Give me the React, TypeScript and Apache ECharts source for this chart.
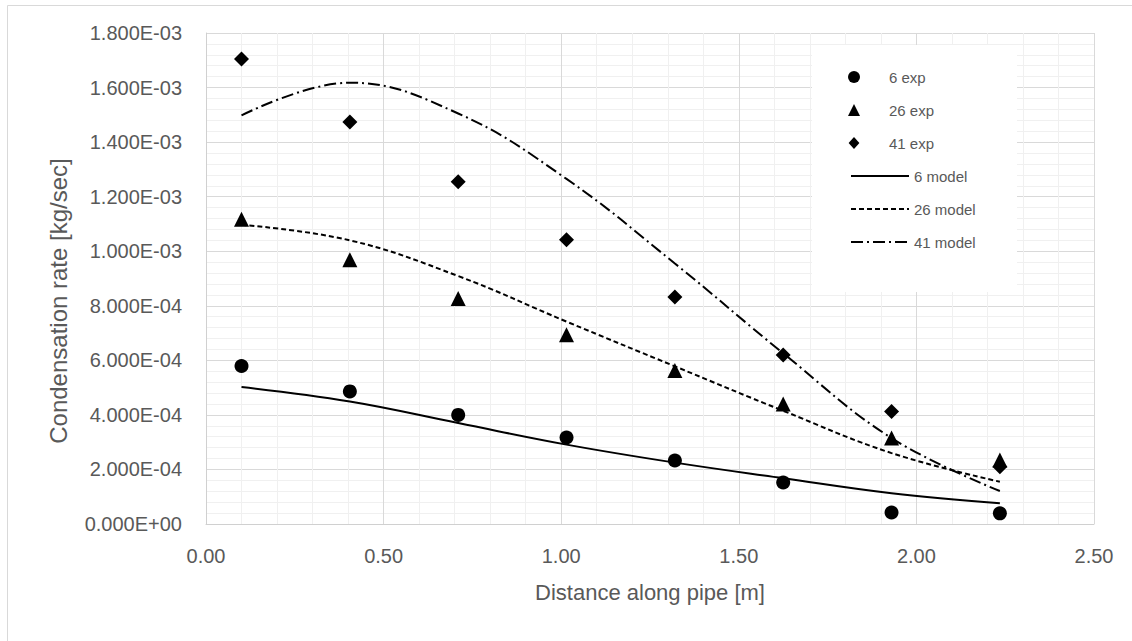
import React, { useEffect, useRef } from "react";
import * as echarts from "echarts";

const xPos = [0.1, 0.405, 0.71, 1.015, 1.32, 1.625, 1.93, 2.235];
const exp6 = [5.79e-4, 4.86e-4, 4.0e-4, 3.17e-4, 2.33e-4, 1.52e-4, 0.42e-4, 0.39e-4];
const exp26 = [1.117e-3, 0.969e-3, 0.827e-3, 0.694e-3, 0.563e-3, 0.44e-3, 3.15e-4, 2.35e-4];
const exp41 = [1.705e-3, 1.474e-3, 1.255e-3, 1.042e-3, 0.832e-3, 0.62e-3, 0.412e-3, 2.1e-4];
const model6 = [5.02e-4, 4.49e-4, 3.7e-4, 2.91e-4, 2.25e-4, 1.68e-4, 1.13e-4, 0.76e-4];
const model26 = [1.097e-3, 1.04e-3, 0.909e-3, 0.742e-3, 0.578e-3, 0.415e-3, 2.6e-4, 1.55e-4];
const model41 = [1.498e-3, 1.618e-3, 1.505e-3, 1.265e-3, 0.955e-3, 0.626e-3, 3.15e-4, 1.21e-4];

const expNames = ["6 exp", "26 exp", "41 exp"];
const modelNames = ["6 model", "26 model", "41 model"];
const xTitle = "Distance along pipe [m]";
const yTitle = "Condensation rate [kg/sec]";

const FONT = "'Liberation Sans', Arial, sans-serif";
const GREY = "#595959";

const expIcons = [
  "path://M0,-10A10,10,0,1,1,0,10A10,10,0,1,1,0,-10Z",
  "path://M0,-10L10,10L-10,10Z",
  "path://M0,-10L9,0L0,10L-9,0Z",
];

function sci(v: number): string {
  if (v === 0) return "0.000E+00";
  let e = Math.floor(Math.log10(Math.abs(v)) + 1e-9);
  let m = v / Math.pow(10, e);
  if (Math.abs(m) >= 9.9995) {
    m /= 10;
    e += 1;
  }
  const sign = e < 0 ? "-" : "+";
  return m.toFixed(3) + "E" + sign + String(Math.abs(e)).padStart(2, "0");
}

const pairs = (ys: number[]) => xPos.map((x, i) => [x, ys[i]]);

export default function App() {
  const ref = useRef<HTMLDivElement>(null);
  useEffect(() => {
    if (!ref.current) return;
    const chart = echarts.init(ref.current, undefined, { renderer: "svg" });
    const scatter = (name: string, data: number[], symbol: string, size: number) => ({
      name,
      type: "scatter",
      data: pairs(data),
      symbol,
      symbolSize: size,
      itemStyle: { color: "#000", opacity: 1 },
      z: 3,
    });
    const line = (name: string, data: number[], type: any) => ({
      name,
      type: "line",
      data: pairs(data),
      smooth: 0.4,
      showSymbol: false,
      symbol: "none",
      itemStyle: { color: "#000" },
      lineStyle: { color: "#000", width: 2, type },
      z: 2,
    });
    const legendText = { color: GREY, fontSize: 15, fontFamily: FONT, lineHeight: 16 };
    chart.setOption({
      animation: false,
      backgroundColor: "#fff",
      textStyle: { fontFamily: FONT },
      grid: { left: 206, right: 38, top: 33, bottom: 117, containLabel: false },
      xAxis: {
        type: "value",
        min: 0,
        max: 2.5,
        interval: 0.5,
        name: xTitle,
        nameLocation: "middle",
        nameGap: 57,
        nameTextStyle: { color: GREY, fontSize: 22, fontFamily: FONT },
        axisLine: { show: true, lineStyle: { color: "#d0d0d0", width: 1 } },
        axisTick: { show: false },
        axisLabel: {
          color: GREY,
          fontSize: 20,
          fontFamily: FONT,
          margin: 22,
          formatter: (v: number) => v.toFixed(2),
        },
        splitLine: { show: true, lineStyle: { color: "#d9d9d9", width: 1 } },
        minorTick: { show: false, splitNumber: 5 },
        minorSplitLine: { show: true, lineStyle: { color: "#f0f0f0", width: 1 } },
      },
      yAxis: {
        type: "value",
        min: 0,
        max: 1.8e-3,
        interval: 2e-4,
        axisLine: { show: true, lineStyle: { color: "#d0d0d0", width: 1 } },
        axisTick: { show: false },
        axisLabel: {
          color: GREY,
          fontSize: 20,
          fontFamily: FONT,
          margin: 24,
          formatter: (v: number) => sci(v),
        },
        splitLine: { show: true, lineStyle: { color: "#d9d9d9", width: 1 } },
        minorTick: { show: false, splitNumber: 5 },
        minorSplitLine: { show: true, lineStyle: { color: "#f0f0f0", width: 1 } },
      },
      legend: [
        {
          show: true,
          orient: "vertical",
          left: 843,
          top: 64,
          itemWidth: 60,
          itemHeight: 12,
          itemGap: 17,
          symbolKeepAspect: true,
          selectedMode: false,
          data: expNames.map((n, i) => ({ name: n, icon: expIcons[i] })),
          textStyle: legendText,
          z: 5,
        },
        {
          show: true,
          orient: "vertical",
          left: 845,
          top: 163,
          itemWidth: 58,
          itemHeight: 12,
          itemGap: 17,
          selectedMode: false,
          data: modelNames.map((n) => ({ name: n, itemStyle: { opacity: 0 } })),
          textStyle: legendText,
          z: 5,
        },
      ],
      graphic: [
        {
          type: "rect",
          z: 1,
          shape: { x: 812, y: 45, width: 205, height: 247 },
          style: { fill: "#fff", stroke: "none" },
          silent: true,
        },
        {
          type: "rect",
          z: 0,
          shape: { x: 7.5, y: 5.5, width: 1150, height: 660 },
          style: { fill: "none", stroke: "#d9d9d9", lineWidth: 1 },
          silent: true,
        },
        {
          type: "text",
          z: 5,
          x: 58,
          y: 301,
          rotation: Math.PI / 2,
          style: {
            text: yTitle,
            fill: GREY,
            font: `24px ${FONT}`,
            textAlign: "center",
            textVerticalAlign: "middle",
          },
          silent: true,
        },
      ],
      series: [
        scatter(expNames[0], exp6, "circle", 14),
        scatter(expNames[1], exp26, "triangle", 15),
        scatter(expNames[2], exp41, "diamond", 15),
        line(modelNames[0], model6, "solid"),
        line(modelNames[1], model26, [5, 3]),
        line(modelNames[2], model41, [12, 4, 2, 4]),
      ],
    });
    return () => chart.dispose();
  }, []);
  return (
    <div
      ref={ref}
      style={{ position: "fixed", left: 0, top: 0, width: 1132, height: 641, background: "#fff" }}
    />
  );
}
